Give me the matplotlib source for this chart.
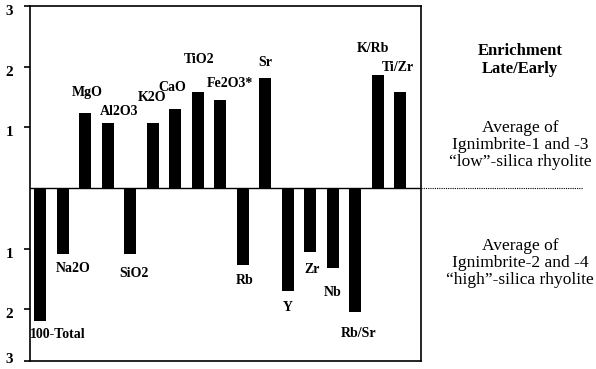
import matplotlib
matplotlib.use('Agg')
import matplotlib.pyplot as plt
import matplotlib.transforms as mtransforms

## enrichment late/early bar chart

labels = ['100-Total', 'Na2O', 'MgO', 'Al2O3', 'SiO2', 'K2O', 'CaO', 'TiO2', 'Fe2O3*',
          'Rb', 'Sr', 'Y', 'Zr', 'Nb', 'Rb/Sr', 'K/Rb', 'Ti/Zr']
values = [-2.19, -1.08, 1.24, 1.07, -1.09, 1.07, 1.30, 1.59, 1.45,
          -1.27, 1.81, -1.70, -1.06, -1.31, -2.05, 1.87, 1.59]
ytick_vals = [-2.85, -2, -1, 1, 2, 3]
ytick_text = ['3', '2', '1', '1', '2', '3']

# label offsets (pixels) from the bar end
label_off = [(17, 14), (10, 15), (2, 20), (11, 12), (4, 19), (-1, 26), (-3, 22), (1, 32), (10, 17),
             (2, 15), (0, 16), (0, 16), (2, 17), (0, 25), (3, 21), (-5, 26), (-2.5, 24)]

plt.rcParams['font.family'] = ['Liberation Serif', 'DejaVu Serif']

fig = plt.figure(figsize=(5.96, 3.69), dpi=100)
ax = fig.add_axes([30/596, 1-361/369, 391/596, 355/369])

x = list(range(len(labels)))
ax.bar(x, values, width=0.54, color='black')
ax.axhline(0, color='black', lw=1.0)

for i, (lab, v) in enumerate(zip(labels, values)):
    dx, dy = label_off[i]
    if v > 0:
        ax.annotate(lab, (i, v), xytext=(dx, dy), textcoords='offset pixels',
                    ha='center', va='center', fontsize=10, fontweight='bold')
    else:
        ax.annotate(lab, (i, v), xytext=(dx, -dy), textcoords='offset pixels',
                    ha='center', va='center', fontsize=10, fontweight='bold')

ax.set_xlim(-0.458, 16.92)
ax.set_ylim(-2.85, 3)
ax.set_xticks([])
ax.set_yticks(ytick_vals)
ax.set_yticklabels(ytick_text, fontsize=11, fontweight='bold')
ax.tick_params(axis='y', direction='out', length=4, width=1.2, pad=8)
for s in ax.spines.values():
    s.set_linewidth(1.2)

# tick labels sit a little below their ticks, the bottom one a little above
tls = ax.get_yticklabels()
for k, tl in enumerate(tls):
    shift = 0.03 if k == 0 else -0.04
    tl.set_transform(tl.get_transform() + mtransforms.ScaledTranslation(0, shift, fig.dpi_scale_trans))

# dotted line to the right of the plot
trans = mtransforms.blended_transform_factory(ax.transAxes, ax.transData)
ax.plot([1.0, 1.415], [0, 0], transform=trans, color='black', lw=0.8,
        linestyle=(0, (1, 1)), clip_on=False)

fig.text(520/596, 1-51/369, 'Enrichment', ha='center', va='center', fontsize=12, fontweight='bold')
fig.text(520/596, 1-69/369, 'Late/Early', ha='center', va='center', fontsize=12, fontweight='bold')
fig.text(520/596, 1-145/369, 'Average of\nIgnimbrite-1 and -3\n\u201clow\u201d-silica rhyolite',
         ha='center', va='center', fontsize=12.5, linespacing=1.12)
fig.text(520/596, 1-263/369, 'Average of\nIgnimbrite-2 and -4\n\u201chigh\u201d-silica rhyolite',
         ha='center', va='center', fontsize=12.5, linespacing=1.12)

fig.savefig('out.png', dpi=100)
